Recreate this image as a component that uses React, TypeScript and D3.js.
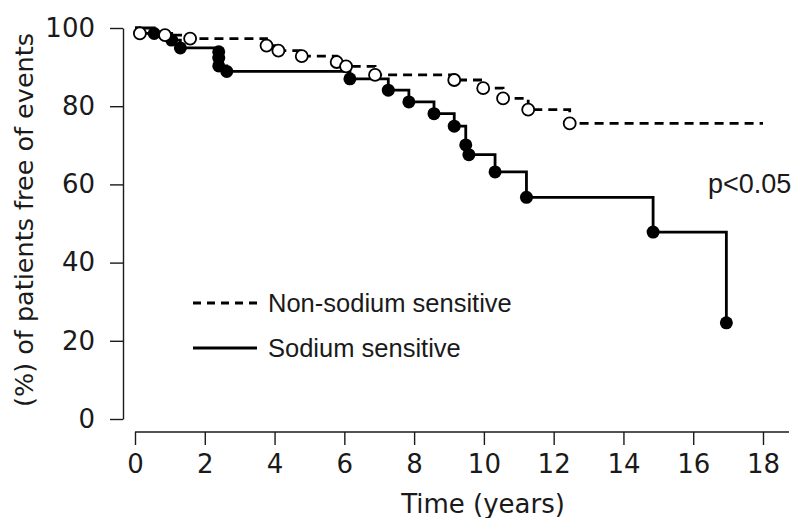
import React, { useEffect, useRef } from "react";
import * as d3 from "d3";

// Kaplan-Meier event-free curves
const sodiumTimes = [0.55, 1.05, 1.3, 2.4, 2.4, 2.4, 2.63, 6.16, 7.26, 7.85, 8.57, 9.15, 9.48, 9.57, 10.32, 11.22, 14.85, 16.95];
const sodiumValues = [98.6, 96.9, 94.9, 93.9, 92.3, 90.3, 88.9, 87.0, 84.1, 81.1, 78.1, 74.9, 70.1, 67.6, 63.2, 56.7, 47.8, 24.6];

const nonSodiumTimes = [0.14, 0.86, 1.58, 3.77, 4.11, 4.78, 5.78, 6.05, 6.88, 9.15, 9.98, 10.55, 11.27, 12.46];
const nonSodiumValues = [98.6, 98.2, 97.3, 95.5, 94.2, 92.8, 91.3, 90.2, 88.0, 86.7, 84.6, 82.0, 79.1, 75.6];
const nonSodiumEnd = 18;

const xTicks = [0, 2, 4, 6, 8, 10, 12, 14, 16, 18];
const yTicks = [0, 20, 40, 60, 80, 100];

const seriesLabels = ["Non-sodium sensitive", "Sodium sensitive"];
const pValueLabel = "p<0.05";

const width = 792;
const height = 518;

function KaplanMeier() {
  const ref = useRef<SVGSVGElement>(null);

  useEffect(() => {
    const svg = d3.select(ref.current);
    svg.selectAll("*").remove();

    const x = d3.scaleLinear().domain([0, 18]).range([135, 763]);
    const y = d3.scaleLinear().domain([0, 100]).range([419, 28]);
    const ink = "#1a1a1a";
    const tickFont = "'DejaVu Sans', sans-serif";

    // y axis
    const yAxis = svg
      .append("g")
      .attr("transform", "translate(123,0)")
      .call(d3.axisLeft(y).tickValues(yTicks).tickSize(13).tickSizeOuter(0).tickPadding(15));
    yAxis.select(".domain").attr("stroke", ink).attr("stroke-width", 1.4);
    yAxis.selectAll(".tick line").attr("stroke", ink).attr("stroke-width", 1.4);
    yAxis
      .selectAll(".tick text")
      .attr("fill", ink)
      .style("font-family", tickFont)
      .style("font-size", "26px");

    // x axis
    const xAxis = svg
      .append("g")
      .attr("transform", "translate(0,432)")
      .call(d3.axisBottom(x).tickValues(xTicks).tickSize(13).tickSizeOuter(0).tickPadding(10));
    xAxis.select(".domain").remove();
    xAxis
      .append("line")
      .attr("x1", x(0))
      .attr("x2", 789)
      .attr("stroke", ink)
      .attr("stroke-width", 1.4);
    xAxis.selectAll(".tick line").attr("stroke", ink).attr("stroke-width", 1.4);
    xAxis
      .selectAll(".tick text")
      .attr("fill", ink)
      .style("font-family", tickFont)
      .style("font-size", "26px");

    // axis titles
    svg
      .append("text")
      .attr("transform", "translate(33,220) rotate(-90)")
      .attr("text-anchor", "middle")
      .attr("fill", ink)
      .style("font-family", tickFont)
      .style("font-size", "25.5px")
      .text("(%) of patients free of events");
    svg
      .append("text")
      .attr("x", 483)
      .attr("y", 513)
      .attr("text-anchor", "middle")
      .attr("fill", ink)
      .style("font-family", tickFont)
      .style("font-size", "26px")
      .text("Time (years)");

    // step curves
    const line = d3
      .line<[number, number]>()
      .x((d) => x(d[0]))
      .y((d) => y(d[1]))
      .curve(d3.curveStepAfter);

    const nonSodiumPts: [number, number][] = [[0, 100]];
    nonSodiumTimes.forEach((t, i) => nonSodiumPts.push([t, nonSodiumValues[i]]));
    nonSodiumPts.push([nonSodiumEnd, nonSodiumValues[nonSodiumValues.length - 1]]);

    const sodiumPts: [number, number][] = [[0, 100]];
    sodiumTimes.forEach((t, i) => sodiumPts.push([t, sodiumValues[i]]));

    svg
      .append("path")
      .datum(nonSodiumPts)
      .attr("fill", "none")
      .attr("stroke", "#000")
      .attr("stroke-width", 2.8)
      .attr("stroke-dasharray", "9,6")
      .attr("d", line);

    svg
      .append("path")
      .datum(sodiumPts)
      .attr("fill", "none")
      .attr("stroke", "#000")
      .attr("stroke-width", 2.8)
      .attr("d", line);

    svg
      .append("g")
      .selectAll("circle")
      .data(sodiumTimes)
      .join("circle")
      .attr("cx", (d) => x(d))
      .attr("cy", (d, i) => y(sodiumValues[i]))
      .attr("r", 6.5)
      .attr("fill", "#000");

    svg
      .append("g")
      .selectAll("circle")
      .data(nonSodiumTimes)
      .join("circle")
      .attr("cx", (d) => x(d))
      .attr("cy", (d, i) => y(nonSodiumValues[i]))
      .attr("r", 6)
      .attr("fill", "#fff")
      .attr("stroke", "#000")
      .attr("stroke-width", 1.8);

    // legend
    const legend = svg.append("g");
    seriesLabels.forEach((label, i) => {
      const ly = 303 + i * 45;
      legend
        .append("line")
        .attr("x1", 193)
        .attr("x2", 257)
        .attr("y1", ly)
        .attr("y2", ly)
        .attr("stroke", "#000")
        .attr("stroke-width", 2.8)
        .attr("stroke-dasharray", i === 0 ? "8,6" : null);
      legend
        .append("text")
        .attr("x", 268)
        .attr("y", ly + 9)
        .attr("fill", ink)
        .style("font-family", "'Liberation Sans', Arial, sans-serif")
        .style("font-size", "25.5px")
        .text(label);
    });

    svg
      .append("text")
      .attr("x", 708)
      .attr("y", 193)
      .attr("fill", ink)
      .style("font-family", "'Liberation Sans', Arial, sans-serif")
      .style("font-size", "27px")
      .text(pValueLabel);
  }, []);

  return (
    <svg
      ref={ref}
      width={width}
      height={height}
      style={{ position: "absolute", left: 0, top: 0, background: "#fff" }}
    />
  );
}

export default function App() {
  return <KaplanMeier />;
}
